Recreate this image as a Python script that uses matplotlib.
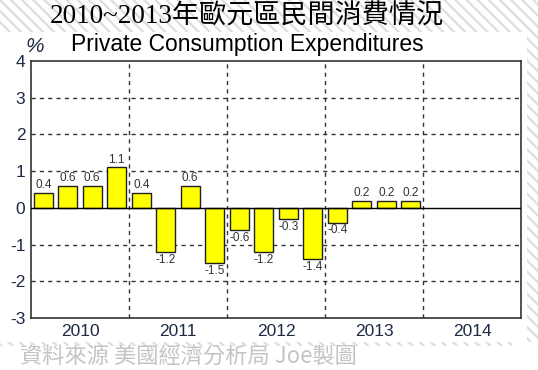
import matplotlib.pyplot as plt
from matplotlib.patches import Rectangle
import numpy as np

years = ['2010', '2011', '2012', '2013', '2014']
values = [0.4, 0.6, 0.6, 1.1,
          0.4, -1.2, 0.6, -1.5,
          -0.6, -1.2, -0.3, -1.4,
          -0.4, 0.2, 0.2, 0.2]
labels = ['0.4', '0.6', '0.6', '1.1',
          '0.4', '-1.2', '0.6', '-1.5',
          '-0.6', '-1.2', '-0.3', '-1.4',
          '-0.4', '0.2', '0.2', '0.2']

plt.rcParams['hatch.color'] = '#dedede'
plt.rcParams['hatch.linewidth'] = 1.6

fig = plt.figure(figsize=(5.38, 3.70), dpi=100)
fig.patch.set_facecolor('white')

# hatched background strips around the white panel
W, H = 538, 370
for (x0, y0, w, h) in [(0, 0, W, 32), (527, 0, 11, 342), (0, 342, 512, 4)]:
    fig.patches.append(Rectangle((x0 / W, 1 - (y0 + h) / H), w / W, h / H,
                                 transform=fig.transFigure, facecolor='white',
                                 edgecolor='#dedede', linewidth=0, hatch='\\\\\\',
                                 zorder=0))

ax = fig.add_axes([31 / W, 1 - 318 / H, 490 / W, 257 / H])

x = np.arange(len(values)) + 0.5
ax.bar(x, values, width=0.78, color='#ffff00', edgecolor='#202020', linewidth=1.0, zorder=3)

for xi, v, s in zip(x, values, labels):
    if v >= 0:
        ax.text(xi, v + 0.05, s, ha='center', va='bottom', fontsize=8.5, color='#333333',
                family='Liberation Sans', zorder=4)
    else:
        ax.text(xi, v - 0.05, s, ha='center', va='top', fontsize=8.5, color='#333333',
                family='Liberation Sans', zorder=4)

ax.set_xlim(0, 20)
ax.set_ylim(-3, 4)
ax.axhline(0, color='black', linewidth=1.0, zorder=4)

for yv in [-2, -1, 1, 2, 3]:
    ax.axhline(yv, color='#333333', linestyle=(0, (3, 3)), linewidth=1.0, zorder=1)
for xv in [4, 8, 12, 16]:
    ax.axvline(xv, color='#333333', linestyle=(0, (3, 3)), linewidth=1.0, zorder=1)

ax.set_yticks(range(-3, 5))
ax.set_yticklabels([str(i) for i in range(-3, 5)], family='Liberation Sans', fontsize=12.5,
                   color='#1e2a44')
ax.set_xticks([2, 6, 10, 14, 18])
ax.set_xticklabels(years, family='Liberation Sans', fontsize=12.5, color='#1e2a44')
ax.tick_params(length=0, pad=4)
for sp in ax.spines.values():
    sp.set_color('#333333')
    sp.set_linewidth(1.2)

fig.text(35 / W, 1 - 46 / H, '%', fontsize=15, style='italic', color='#1e2a44',
         family='Liberation Sans', ha='center', va='center')
fig.text(247 / W, 1 - 45 / H, 'Private Consumption Expenditures', fontsize=16.5,
         family='Liberation Sans', ha='center', va='center', color='black')

fig.text(247 / W, 1 - 17 / H, '2010~2013年歐元區民間消費情況', fontsize=19.5,
         family=['Liberation Serif', 'Noto Sans CJK TC'], ha='center', va='center',
         color='black', fontweight='light')

fig.text(20 / W, 1 - 356 / H, '資料來源 美國經濟分析局 Joe製圖', fontsize=16,
         family=['Noto Sans CJK TC'], ha='left', va='center', color='#c4c4c4',
         fontweight='light')

fig.savefig('out.png', dpi=100)
